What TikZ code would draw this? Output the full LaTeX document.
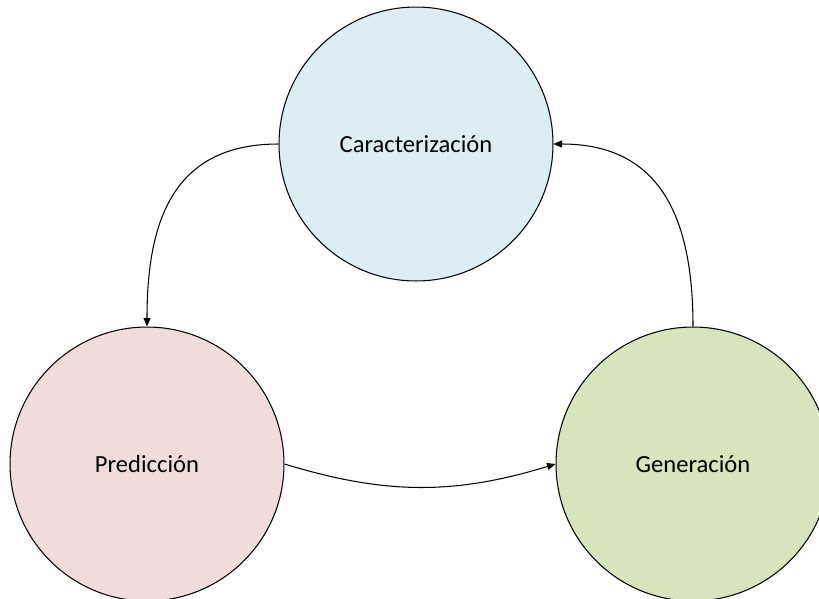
\documentclass[tikz,border=0pt]{standalone}
\usepackage{fontspec}
\setmainfont{Carlito}
\usepackage{xcolor}
\usetikzlibrary{shapes,positioning,arrows.meta}
\definecolor{cblue}{HTML}{DAEEF3}
\definecolor{cpink}{HTML}{F2DCDB}
\definecolor{cgreen}{HTML}{D7E4BC}
\tikzset{fase/.style={circle,draw,line width=0.6pt,minimum size=5.48cm,inner sep=0cm,font=\fontsize{14}{16}\selectfont}}

\begin{document}
\begin{tikzpicture}[>={Stealth[length=1.7mm,width=1.4mm,inset=0pt]},x=0.02cm,y=-0.02cm]
    \clip (0,0) rectangle (819,599);
    \node[fase,fill=cblue] (c) at (416,144) {Caracterización};
    \node[fase,fill=cpink] (p) at (147,464) {Predicción};
    \node[fase,fill=cgreen] (g) at (693,464) {Generación};

    \draw [->,line width=0.6pt] (c.west) to [out=180,in=90,looseness=1.2] (p.north);
    \draw [->,line width=0.6pt] (p.east) to [out=-17,in=197] (g.west);
    \draw [->,line width=0.6pt] (g.north) to [out=90,in=0,looseness=1.2] (c.east);
\end{tikzpicture}
\end{document}
